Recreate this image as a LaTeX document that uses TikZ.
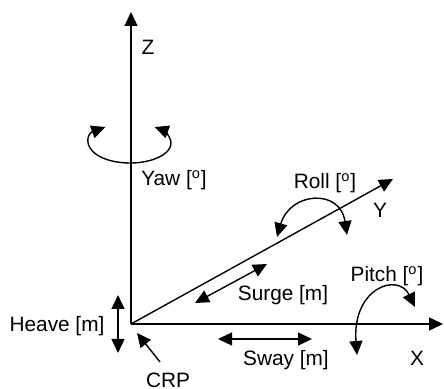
\documentclass[tikz,border=0pt]{standalone}
\usepackage{fontspec}
\setmainfont{Liberation Sans}
\usepackage{tikz}
\usetikzlibrary{arrows.meta}
\tikzset{>={Triangle[length=7pt,width=6.5pt]}}
\tikzset{font=\fontsize{10.4}{12}\selectfont}
\tikzset{line/.style={line width=0.7pt},
  lbl/.style={inner sep=0pt}}
\newcommand{\dg}{[\textsuperscript{o}]}

\begin{document}
\begin{tikzpicture}[x=0.5pt,y=-0.5pt]
  \useasboundingbox (0,0) rectangle (444,389);
  % axes
  \coordinate (crp) at (131,324);
  \coordinate (zend) at (131,12);
  \coordinate (xend) at (443,324);
  \coordinate (yend) at (393,179);
  \draw[line,->] (crp) -- (zend);
  \draw[line,->] (crp) -- (xend);
  \draw[line,->] (crp) -- (yend);
  \node[lbl] (zlbl) at (148,47) {Z};
  \node[lbl] (xlbl) at (417,358) {X};
  \node[lbl] (ylbl) at (380,210) {Y};
  % yaw
  \draw[line,<->] (130,143) ++(233:41 and 20) arc (233:-53:41 and 20);
  \node[lbl] (yaw) at (174,180) {Yaw \dg};
  % roll
  \coordinate (rolla) at (277,237);
  \coordinate (rollb) at (347,235);
  \draw[line,<->] (rolla) .. controls (290,192) and (340,188) .. (rollb);
  \node[lbl] (roll) at (325,183) {Roll \dg};
  % pitch
  \coordinate (pitcha) at (357,355);
  \coordinate (pitchb) at (415,307);
  \draw[line,<->] (pitcha) .. controls (352,288) and (398,272) .. (pitchb);
  \node[lbl] (pitch) at (387,276) {Pitch \dg};
  % surge
  \coordinate (surgea) at (195,303);
  \coordinate (surgeb) at (267,264);
  \draw[line,<->] (surgea) -- (surgeb);
  \node[lbl] (surge) at (283,295) {Surge [m]};
  % sway
  \coordinate (swaya) at (218,339);
  \coordinate (swayb) at (312,339);
  \draw[line,<->] (swaya) -- (swayb);
  \node[lbl] (sway) at (286,360) {Sway [m]};
  % heave
  \coordinate (heavea) at (118,295);
  \coordinate (heaveb) at (118,353);
  \draw[line,<->] (heavea) -- (heaveb);
  \node[lbl] (heave) at (57,326) {Heave [m]};
  % crp
  \node[lbl] (crplbl) at (168,380) {CRP};
  \coordinate (crptail) at (160,362);
  \draw[line,->] (crptail) -- (137,333);
\end{tikzpicture}
\end{document}
